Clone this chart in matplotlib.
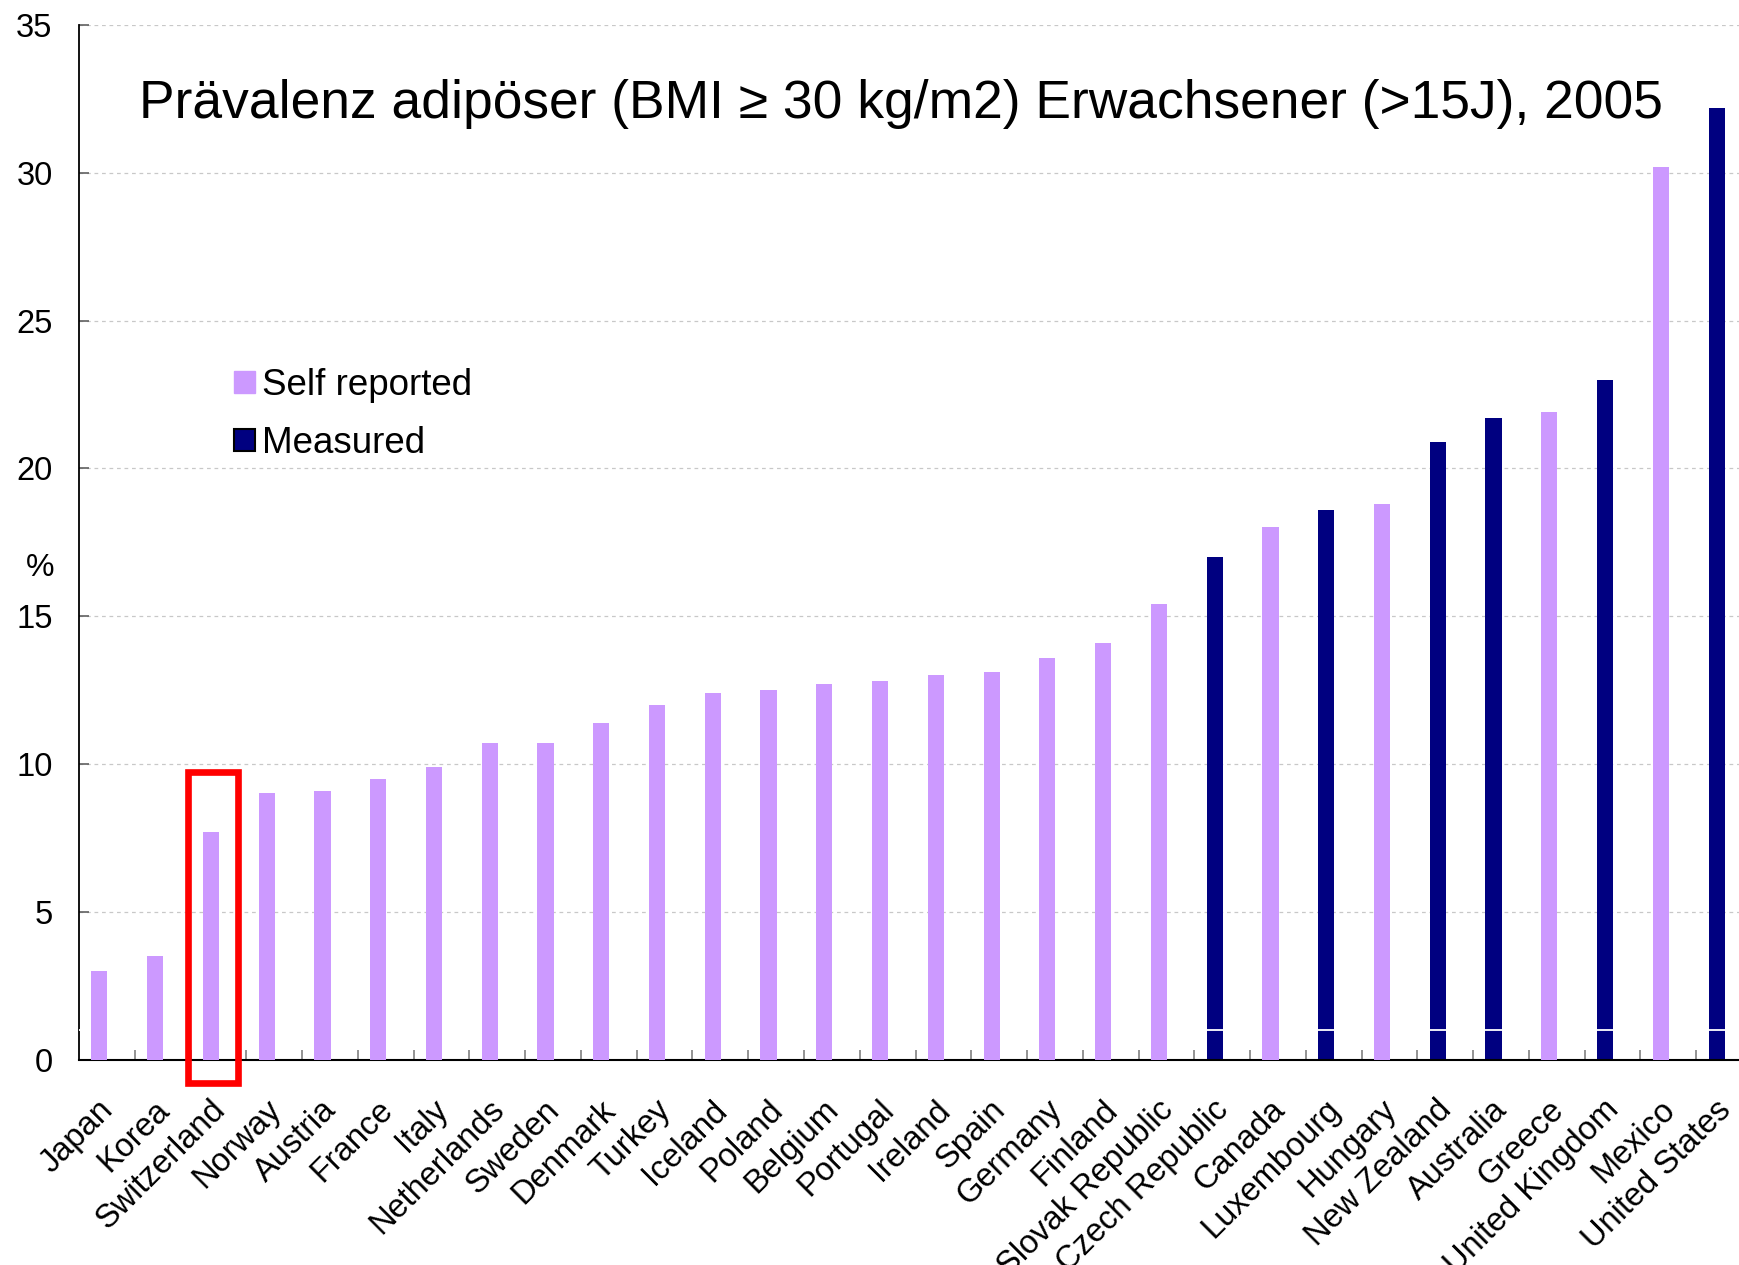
import matplotlib
matplotlib.use("Agg")
import matplotlib.pyplot as plt
from matplotlib.patches import Patch, Rectangle
import matplotlib.transforms as mtransforms
import numpy as np

plt.rcParams['font.family'] = ['Liberation Sans', 'DejaVu Sans']

countries = ["Japan", "Korea", "Switzerland", "Norway", "Austria", "France", "Italy",
             "Netherlands", "Sweden", "Denmark", "Turkey", "Iceland", "Poland", "Belgium",
             "Portugal", "Ireland", "Spain", "Germany", "Finland", "Slovak Republic",
             "Czech Republic", "Canada", "Luxembourg", "Hungary", "New Zealand", "Australia",
             "Greece", "United Kingdom", "Mexico", "United States"]
values = [3.0, 3.5, 7.7, 9.0, 9.1, 9.5, 9.9, 10.7, 10.7, 11.4, 12.0, 12.4, 12.5, 12.7,
          12.8, 13.0, 13.1, 13.6, 14.1, 15.4, 17.0, 18.0, 18.6, 18.8, 20.9, 21.7, 21.9,
          23.0, 30.2, 32.2]
measured = ["Czech Republic", "Luxembourg", "New Zealand", "Australia",
            "United Kingdom", "United States"]
yticks = [0, 5, 10, 15, 20, 25, 30, 35]
title = "Prävalenz adipöser (BMI ≥ 30 kg/m2) Erwachsener (>15J), 2005"
highlight = "Switzerland"

PINK = "#CC99FF"
NAVY = "#000080"

W, H = 1739, 1265
fig = plt.figure(figsize=(W / 100, H / 100), dpi=100)
ax = fig.add_axes([79 / W, 1 - 1059.5 / H, 1673 / W, (1059.5 - 25) / H])

x = np.arange(len(countries))
off = -0.135
bw = 0.29
is_m = np.array([c in measured for c in countries])
vals = np.array(values)

ax.bar(x[~is_m] + off, vals[~is_m], width=bw, color=PINK, zorder=3)
ax.bar(x[is_m] + off, vals[is_m], width=bw, color=NAVY, zorder=2)
ax.axhline(1.0, color="white", lw=1.3, zorder=2.7)

ax.set_xlim(-0.5, len(countries) - 0.5)
ax.set_ylim(0, 35)
ax.set_yticks(yticks)
ax.set_yticklabels([str(t) for t in yticks], fontsize=23.5)
ax.yaxis.grid(True, linestyle=(0, (3, 3)), color="#C8C8C8", lw=0.9)
ax.set_axisbelow(True)

ax.set_xticks(np.arange(len(countries)) + 0.5, minor=False)
ax.set_xticklabels([])
ax.tick_params(axis="x", which="major", direction="in", length=7, color="#808080", width=1.2)
ax.tick_params(axis="y", direction="in", length=7, color="#606060", width=1.2, pad=19)

ax.set_xticks(x, minor=True)
ax.set_xticklabels(countries, minor=True, rotation=45, ha="right",
                   rotation_mode="anchor", fontsize=23.5)
ax.tick_params(axis="x", which="minor", length=0, pad=25)
offset = mtransforms.ScaledTranslation(-9 / 100, 0, fig.dpi_scale_trans)
for lab in ax.get_xticklabels(minor=True):
    lab.set_transform(lab.get_transform() + offset)

for s in ["top", "right"]:
    ax.spines[s].set_visible(False)
ax.spines["left"].set_linewidth(1.3)
ax.spines["bottom"].set_linewidth(1.5)

ax.text(0.518, 1 - 118 / H, title, transform=fig.transFigure, ha="center", va="baseline",
        fontsize=38.4)
ax.text(40 / W, 1 - 568 / H, "%", transform=fig.transFigure, ha="center", va="center",
        fontsize=23)

hi = countries.index(highlight)
rect = Rectangle((hi - 0.1 - 0.445, -0.8), 0.89, 10.53, fill=False, edgecolor="#FF0000",
                 lw=4.8, clip_on=False, zorder=5)
ax.add_patch(rect)

handles = [Patch(facecolor=PINK, edgecolor=PINK, label="Self reported"),
           Patch(facecolor=NAVY, edgecolor="black", lw=1.5, label="Measured")]
fig.legend(handles=handles, loc="upper left", bbox_to_anchor=(216 / W, 1 - 350 / H),
           frameon=False, fontsize=26.5, handlelength=0.55, handleheight=0.55,
           handletextpad=0.2, labelspacing=0.62, borderpad=0)

fig.savefig("out.png", dpi=100)
